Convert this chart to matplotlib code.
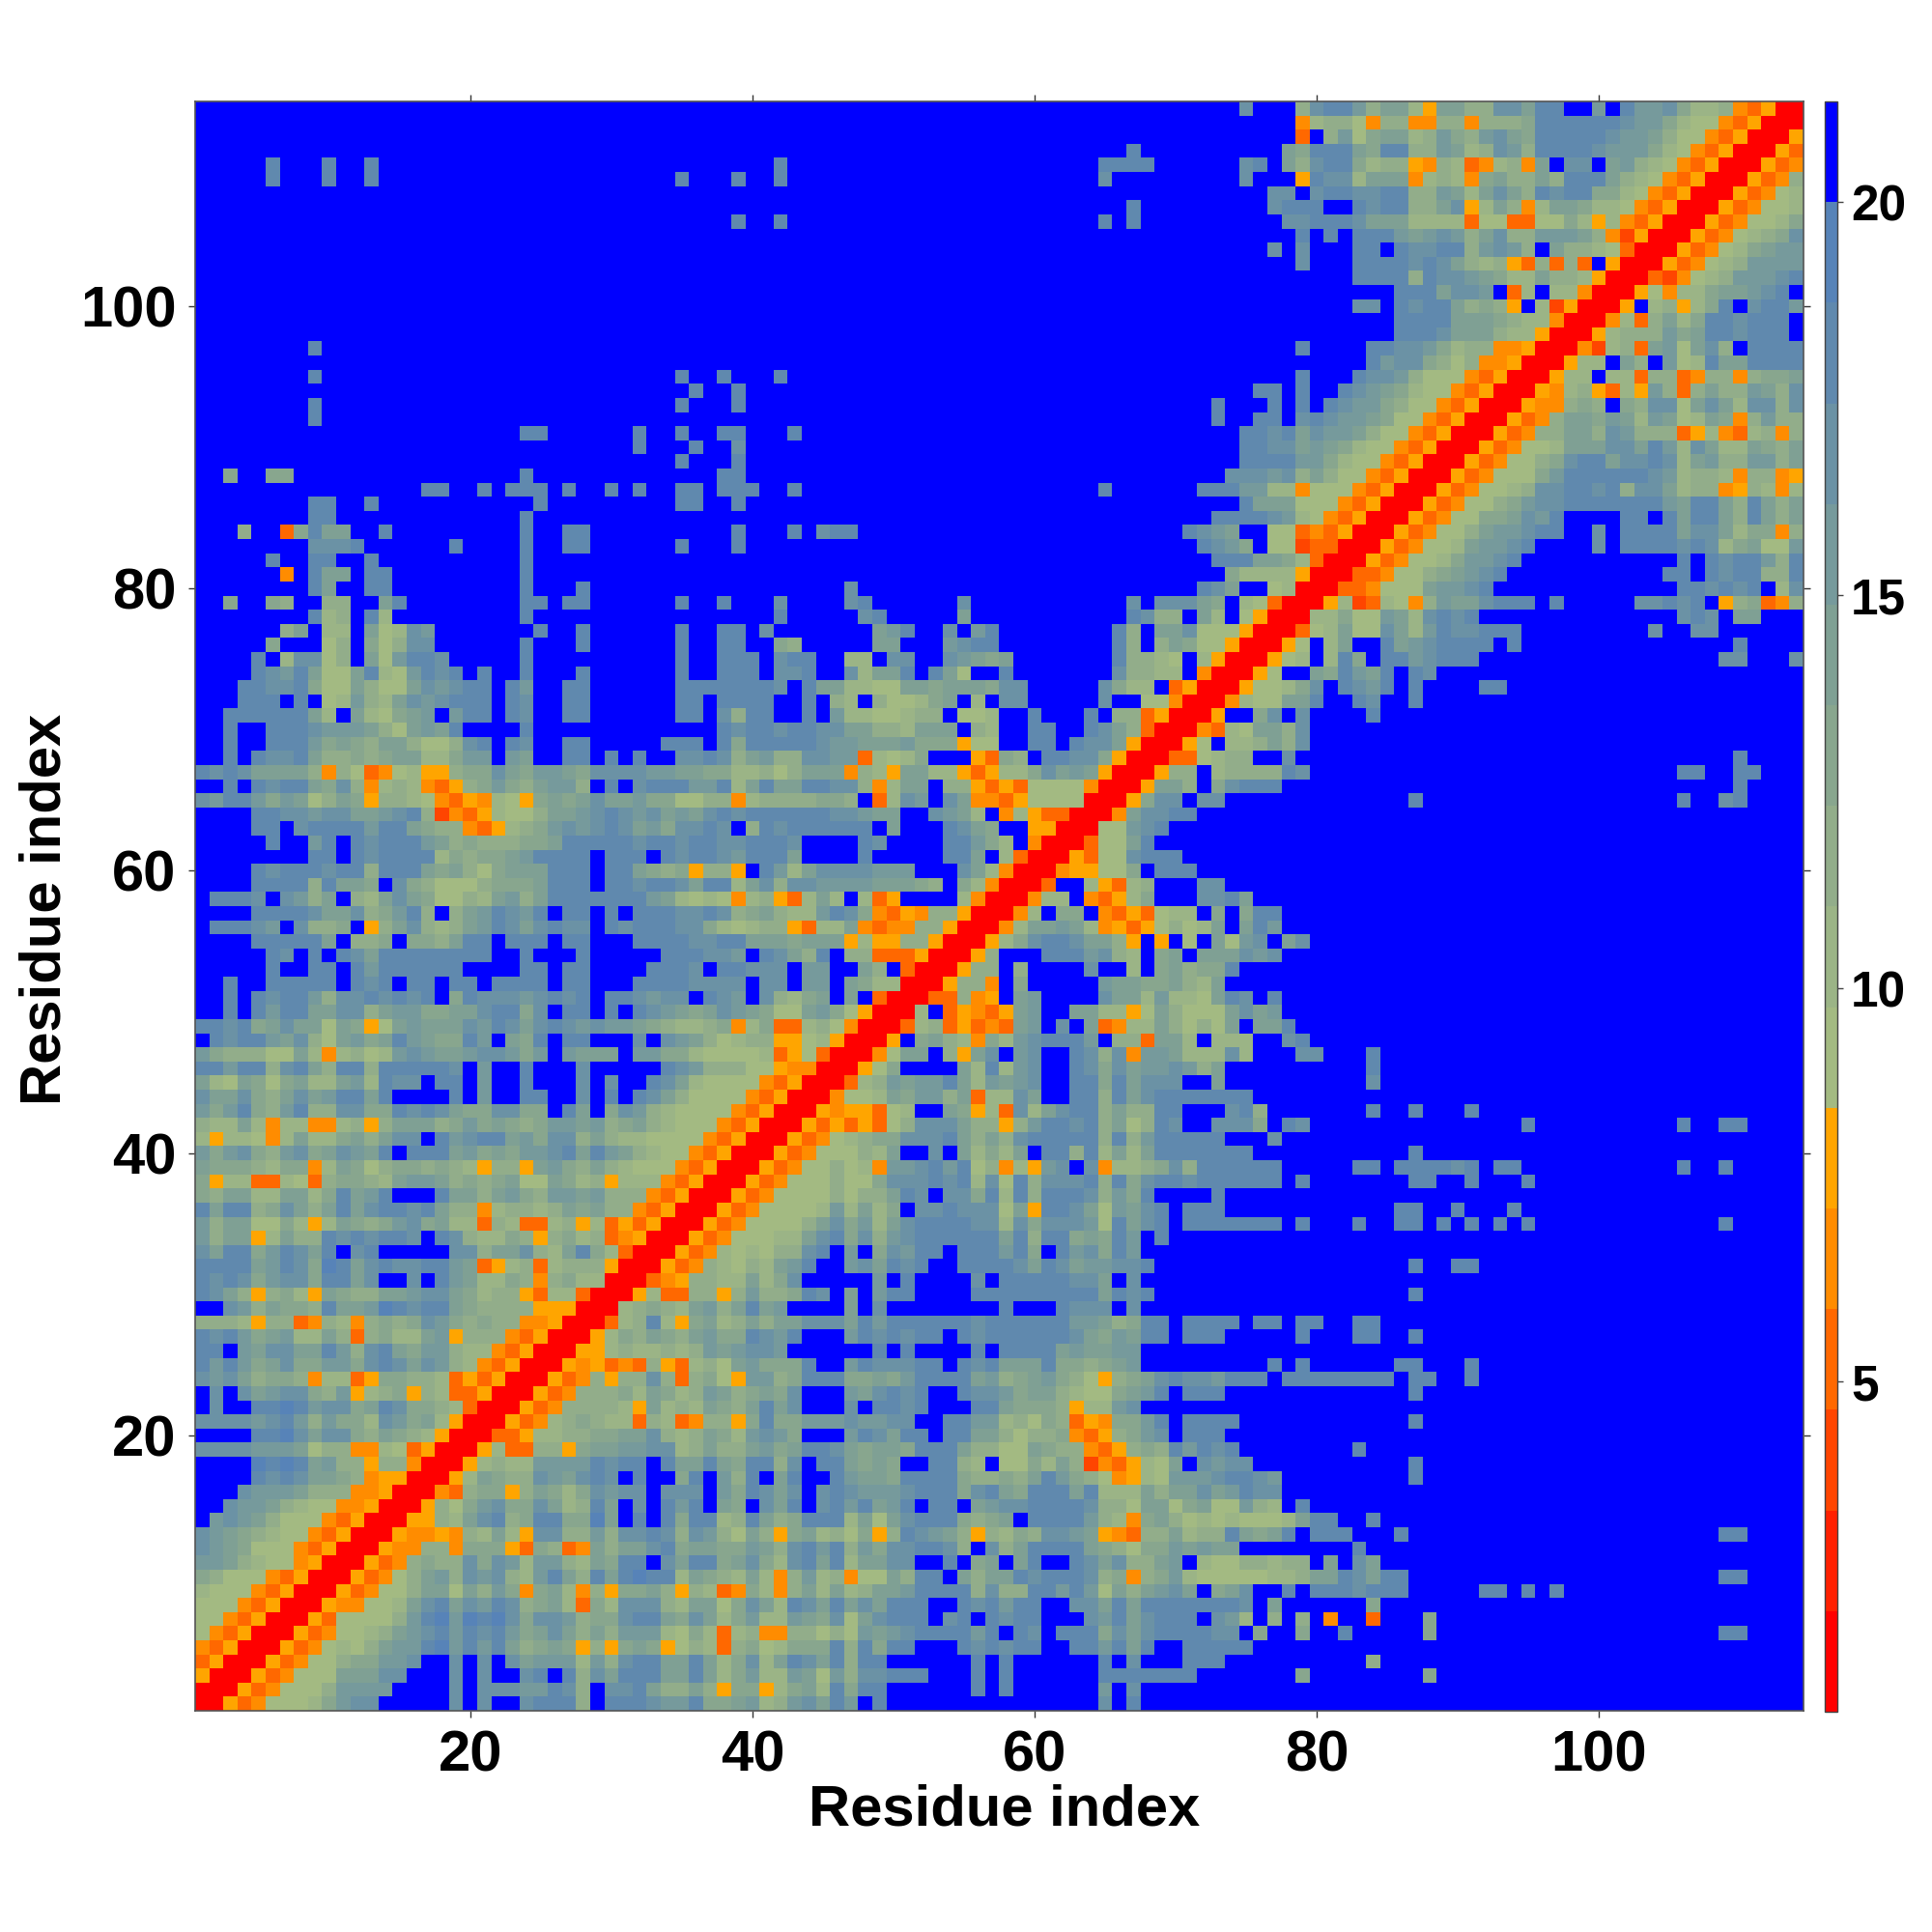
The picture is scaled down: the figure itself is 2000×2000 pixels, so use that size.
import numpy as np
import matplotlib
matplotlib.use("Agg")
from matplotlib import pyplot as plt
from matplotlib.colors import ListedColormap, Normalize

plt.rcParams['font.family'] = ['Liberation Sans', 'DejaVu Sans']
plt.rcParams['font.weight'] = 'bold'

# one character per residue pair, map is symmetric so only col <= row is kept
# 0-5 red to orange, a-i sage to steel blue, . is beyond cutoff
ROWS_1_76 = [
    "0", "00", "500", "3500", "43500", "a43500", "aa43500", "aaa43500", "baaa43500", "dcaaa43500",
    "ffecbaa4500", "gfedaaa43500", "gfedcbaa43500", ".fgfecaaa43500", "..gffecbaa44500",
    "...gfffeccc44500", "....hghgeedc45500", "....ihihefcc5cc400", "ggggfffeacc44ba3500",
    "....hhigeggdcedcb500", "ggggfghfcfddbgfdeb500", ".g..hhihfggdehgddcb300",
    ".g.gefggdcf5bcd5cb33500", "gfgecddc4bb35ddccb353500", "hfhfdegddffdghgegfcb43500",
    "hh.feggeehfcghedffcbb43500", "hghfdefbbec3cdbbef5ccc43500", "cccb5cc34cb4cdcdgfdcdcc44500",
    "..gfceddcheefihghhedcccc55500", "hgec5cdb5edcceefggedbcc53bb300",
    "hghgdfggdhheg..g.hfebbdc4cdbb00",
    "hhhhefhg" "diheghgghhfe" "35" "bc" "3" "bccc" "5" "00",
    "gehhdfhg" "eh.gh" "....." "ggceegcbehdb" "300",
    "fcee5" "becc" "hghghhg" "." "hg" "cbbdc" "5" "cdbc" "345" "00",
    "fceeaadb5" "bedcdfgdebb" "3cb33bc5b" "3535" "00",
    "hehhcdgec" "ehe" "ghhgh" "ecc" "4bccbcedecc" "435" "00",
    "dceebbeeb" "dhefh" "..." "heecefdcffefccc" "435" "00",
    "d5bb33ba3" "cddcbeffecdcdeaaedbc" "5bbb" "435" "00",
    "edddcbdd4" "bedacddcdcb" "5cc5" "efdcecbaaa" "435" "00",
    "fdfgdcfgdegfeh" "." "hhh" "efdedffghehfecbaa" "435" "00",
    "b5bba4bebbdecegg" "." "hfghhefdggcecbbaaaa" "435" "00",
    "cbbeb4bb44bc5" "ceeecdfdedcdffefcdecbaaa" "435" "00",
    "fdfhdcfhccggddhghgeddggdd" "." "he" "." "dgfcbaaaa" "435" "00",
    "geegdcegefhheh" "...." "h." "f.." "hh" ".." "g." "h." "hgecaaaa" "435" "00",
    "ebaedadebbefbhgg" "." "hh" "." "f.." "h..." "g." "g.." "hgebaaaa" "435" "00",
    "hhfhhcghechhchhhhhg" "." "f.." "h..." "g" "....." "hgfcccaa" "544" "00",
    "fdcccaaeb4bcabfgfeefggfdf" "." "feee" "." "ffddbaaaab" "35a3" "00",
    ".hghhfegcaefdehfeddhf" "." "edh" "." "hh" "..." "g." "gfecabcc" "55ab5" "00",
    "hhghdegeeaed5" "aefeeegfhgeghgfgffedcbbcd" "4bd33bca4" "00",
    "..h." "hfhheeggceffddeeghhdg" "." "hh" "." "h" "." "hgfedegfedaaefda" "5" "00",
    "..h." "hghhfcgghghgh" "." "dhgggfghgh" "." "hhgfgg" "." "hgf" "." "gcbde" "." "e" "." "3" "00",
    "..h.." "hhhhh" "." "hgh" "." "hh" "." "hh" "." "hhhh" "." "hh" "..." "hhhhgggg" "." "gg" "." "ff" "." "edbb" "00",
    "....." "h.." "hh" "." "hfhhhhhh" "...." "hh" "." "hh" "...." "hhhg" "." "hhggg" "." "ff" ".." "ec" "." "3" "00",
    "....." "hg." "h." "hgehhhhhhhh" ".." "h" "..." "h" "....." "hhhggf" "." "hgech" "." "cc" "3335" "00",
    "...." "hhhhhe" "." "ccd" "." "ddcehh" "." "hhh" "." "hh" "..." "hhhhgghh" "eeedeee" "5b55cc5" "00",
    ".hhhgf." "gccd" "." "5" "cegcbcefhgeghgg" "." "hghhhggdbabcc" "53bbe4344cc5" "00",
    "...." "hhhhgeegcdfhc" "." "cefhgfh" "." "hh" "." "h" "." "hhhgghg" "cdecbbfhgd" "4354cc5" "00",
    ".hhhg." "gfce" "." "cbegedaacbefce" "hhhhhhh" "febaba" "4bc53beb" "." "b35" "...." "b4" "00",
    "...." "hhhhcheed" "." "gdcaaacdddehhh" "." "hhghhgehh" "begcggffffeeedc" "." "db4" "00",
    "...." "hghhhghhchhhedecadeeehhh" "." "hhedcd5cc5" "." "hfbeggggfff" "..." "geb4" "00",
    "........" "hh." "hghhhhbdcddefhhhh" "." "hhh" "." "hghhgfhhhe" "...." "h" "....." "hhe" "." "b3" "00",
    "....." "h.." "fh." "hghhhfecdcccddehhhhhghhghhgghhhg" "...." "hg" "...." "hhfdb" "." "4" "00",
    "...." "hh." "ghhhhfhhedcc" "435" "bcdfgfghgefdgghg" "." "chghhhhhh" "." "e" "..." "hged" ".." "55" "00",
    "...." "hhggfggeefghc" "2435" "baaceefghgfgefeghg" "hhhhhhggfee" ".." "gfeb" "." "4b533" "00",
    "gfhhfdfeaced" "5" "ccba" "4354" "ba" "5" "dedegeefddaacc" "4bccccddc" "." "3bgf" "." "ge" "4435" "aaaa" "00",
    "..h." "hghhedgc" "4bcb" "435" "cdfdceffc" "." "h" "." "ghhhffh" "behee" "hhggc" "4bee" "." "cc" "5353" "aaaa" "4" "00",
    "hghgeeeec" "4" "ca" "34" "ab" "55" "cddgedffedggggffeeddbbcaceee" "4" "cb" "5" "eebb" "535" "bbdgefe" "5" "00",
    "..h." "hggheccdcdeebbdff" "." "fe" ".." "hh" "." "h" "." "h" ".." "gghg" "cefccggff" "3" "babd" "..." "53" "dc" "." "hhggd" "5" "00",
    "..h.." "hhhfdedceecaacgh" "." "hg" ".." "hh" "....." "hhh" "." "h" "dhhhhhgffeeefddd" "5" "aa" ".." "hh" "." "hgge" "5" "00",
    "..h.." "hhhgfffecaefeh" "...." "h" "............." "h" "ghhghhggeeccbeee" "." "cb" ".." "hh" ".." "hgec" "3" "00",
    ".." "hhhhhheb" "." "ebadef" "." "fhh" "." "hg" ".." "hh" "......" "hh" "." "gchh" ".." "h" "." "fbbaabcc" "." "aab" ".." "h" "..." "h" "." "cc" "35" "00",
    "..." "hhh." "h." "abfcbegfghhh" "." "hg" ".." "hh" "......" "hh" "." "hhhh" ".." "h." "cb." "caabde" "." "b." "gg" "....." "g.." "aa" "4" "00",
    "..." "hhgghdaaecaaegfghh" "." "hf" ".." "hh" "......" "hhhhhhhg" "." "heebbaaeedeeedgg" "....." "gdbb" "." "35" "00",
    "...." "hgfheaaehbafhgh" "." "h" ".." "h" "..." "h" "......" "h" ".." "hhh" "." "ggh" ".." "gbeeh" "." "hea" ".." "h" "......." "gccbb" "." "4" "00",
    "...." "h." "bggac" "." "eafhhg" "....." "h" ".........." "h" ".." "hhh" "." "ghh" ".." "bb" "." "gg" ".." "gfede" "......." "hccba" "." "b5" "00",
    "....." "d..." "ac." "dacgg" "......" "h..." "h" "......" "h.." "hh.." "dc" "....." "ee" "..." "fghh" "........" "hc." "cedaa" "5" "00",
]

# rows 77-114, columns from 77 up to the diagonal
ROWS_77_114 = [
    "0", "00", "300", "ab00", "bb500", "edb300", "aa23300", "aa343500", "gfba43500", "eeaaa43500",
    "bb4aaa43500", "fgcecaa43500", "hhffdbaa43500", "ggefedbaa43500", "ghegffecaa43500",
    "h.ghgffedaa43500", "h.h.hgffdcaa43500", "h.h..hgfedbaa43500", "..h...hggfcaaa43500",
    ".......hfggdcac44500", "..h....hhggfdbcc44500", ".........hhhgeeecbb500",
    ".........hhhheeedcbb400", "......gg.hghhecdc5.b2500", ".........hhheggf.3b.bb400",
    "......hhhhchggfedbbeccb500", "..g...hhhhghgecbc53c3c3.500", "g.g...hh.hgghhcfgfc.eccba300",
    "..h.h.hhhfefgfcegccfffec42500", ".gghhhgeeebbbb3aa33aadb5b43500",
    "ghhh..hghhcceg5bec4beedbba43500", "gg.ghhgghhccfebegechghhddba43500",
    "..5hggbeee4bcb4deccechhhecba43500", ".ecghhdbcc54cb34bc4e.gg.efcba43500",
    ".edhhhedhhccfebcgfchhhhgfffdba43500", "..3.cfadeebcfdcfgedhhhhhgffecaa43500",
    "..4bcca4cc44cc4cccdhhhhhhgffdbaa43500", "..cghhfceeb5eeccggehh..f.hffgdbbc43500",
]

# rows 77-114, columns 1-76 are mostly empty: "col:cells"
SPARSE_77_114 = {
    77: "7:ce 10:bb 13:eabgf 25:h 28:h 35:h 38:hh 41:g 49:efh 54:g 56:fh 66:hc 69:eeg 72:aaa 75:50",
    78: "9:hbc 13:hb 24:h 42:h 48:gh 55:e 67:hg 69:cc 72:eb 75:a5",
    79: "3:d 6:dc 10:cc 14:eh 24:hh 27:hh 35:h 38:h 42:g 47:gh 55:g 67:g 69:ggg 72:ed 75:ba",
    80: "9:he 13:hh 24:h 28:h 47:g 72:hge",
    81: "7:4 9:hee 13:hh 24:h 74:dbbb",
    82: "6:h 9:hh 13:h 24:h 73:hhhe",
    83: "9:gggh 19:h 24:h 27:hh 35:h 39:h 72:hgfd",
    84: "4:c 7:3d 9:hee 14:h 24:h 27:hh 39:h 43:h 45:ghh 71:hgfe",
    85: "9:hh 24:h 73:hhhh",
    86: "9:hh 13:h 25:h 35:hh 39:h 75:he",
    87: "17:hh 21:h 23:hhh 27:h 30:h 32:h 35:hh 38:hhh 43:h 65:h 72:hhhff",
    88: "3:d 6:dd 24:h 38:hh 74:ggg",
    89: "35:h 39:h 75:hh",
    90: "32:h 36:h 39:g 75:hh",
    91: "24:hh 32:h 35:h 38:hh 43:h 75:hh",
    92: "9:h 73:h 76:h",
    93: "9:h 35:h 39:h 73:h",
    94: "36:h 39:h 76:h",
    95: "9:h 35:h 38:h 42:h",
    97: "9:h",
    106: "39:h 42:h 65:h 67:h",
    107: "67:h",
    109: "6:h 10:h 13:h 35:h 39:h 42:h 65:g 75:g",
    110: "6:h 10:h 13:h 42:h 65:hhhh 75:gh",
    111: "67:h",
    114: "75:g",
}

CHAR_LEVELS = "012345abcdefghi."
BAND_COLORS = ["#ff0000", "#ff2000", "#ff4500", "#ff6800", "#ff8c00", "#ffa500",
               "#a3ba82", "#9bb486", "#92ad8a", "#88a68e", "#7fa094", "#769a9c",
               "#6b92a5", "#6089ae", "#5783b8", "#0000ff"]
VMIN = 0.8
VMAX = 21.28
XTICKS = [20, 40, 60, 80, 100]
CBAR_TICKS = [5, 10, 15, 20]

n = 114
band = (VMAX - VMIN) / len(BAND_COLORS)
levels = np.full((n, n), CHAR_LEVELS.index("."))

def put(row, col, cells):
    for k, c in enumerate(cells):
        levels[row - 1, col - 1 + k] = CHAR_LEVELS.index(c)
        levels[col - 1 + k, row - 1] = CHAR_LEVELS.index(c)

for i, s in enumerate(ROWS_1_76):
    put(i + 1, 1, s)
for i, s in enumerate(ROWS_77_114):
    put(i + 77, 77, s)
for r, spec in SPARSE_77_114.items():
    for token in spec.split():
        c, cells = token.split(":")
        put(r, int(c), cells)

distance = VMIN + (levels + 0.5) * band

fig = plt.figure(figsize=(20, 20), dpi=100)
ax = fig.add_axes([202 / 2000, 1 - 1771 / 2000, 1665 / 2000, 1666 / 2000])
cmap = ListedColormap(BAND_COLORS)
im = ax.imshow(distance, origin="lower", cmap=cmap, norm=Normalize(VMIN, VMAX),
               extent=(0.5, n + 0.5, 0.5, n + 0.5), aspect="auto", interpolation="nearest")
ax.set_xticks(XTICKS)
ax.set_yticks(XTICKS)
ax.tick_params(top=True, right=True, length=5, width=1, color="#333333", labelsize=43, pad=9)
ax.set_xlabel("Residue index", fontsize=43, fontweight="bold", labelpad=1, x=0.503)
ax.set_ylabel("Residue index", fontsize=43, fontweight="bold", labelpad=6, y=0.498)
for s in ax.spines.values():
    s.set_color("#555555")
    s.set_linewidth(1.2)

cax = fig.add_axes([1889 / 2000, 1 - 1772 / 2000, 13 / 2000, 1667 / 2000])
cb = fig.colorbar(im, cax=cax, ticks=CBAR_TICKS)
cb.ax.tick_params(length=4, width=1, color="#444444", labelsize=37, pad=6)
cb.outline.set_edgecolor("#444444")
cb.outline.set_linewidth(1)

fig.savefig("out.png", dpi=100)
